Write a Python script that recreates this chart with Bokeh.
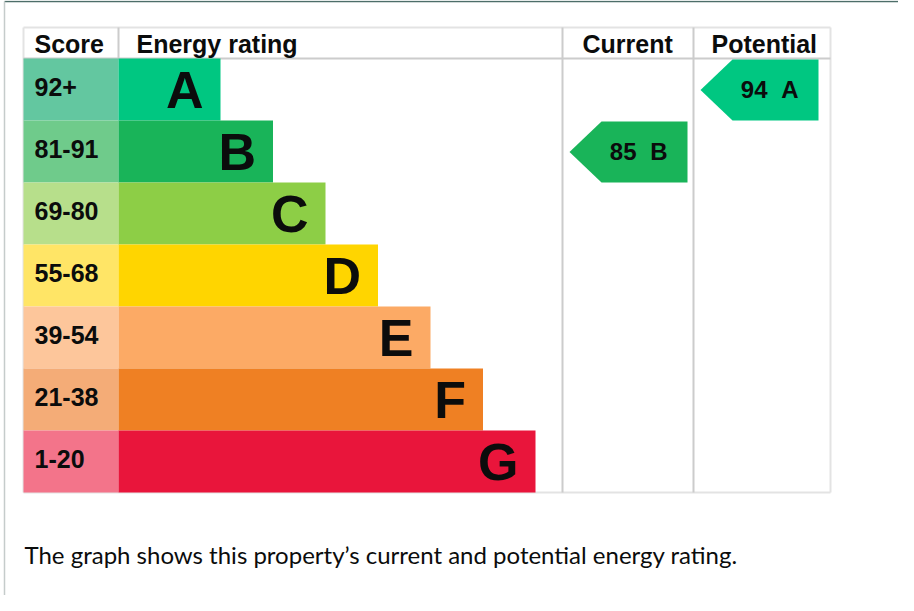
from bokeh.plotting import figure
from bokeh.models import Range1d, ColumnDataSource
from bokeh.core.properties import value
from bokeh.embed import file_html
from bokeh.resources import INLINE

# ---------------- data ----------------
bands = ["A", "B", "C", "D", "E", "F", "G"]
score_ranges = ["92+", "81-91", "69-80", "55-68", "39-54", "21-38", "1-20"]
band_colors = ["#00c781", "#19b459", "#8dce46", "#ffd500", "#fcaa65", "#ef8023", "#e9153b"]
score_colors = ["#63c7a0", "#6fcb8b", "#b7df8b", "#ffe566", "#fdc69b", "#f4ac77", "#f3748a"]
headers = ["Score", "Energy rating", "Current", "Potential"]
current_score = 85
current_band = "B"
potential_score = 94
potential_band = "A"
caption = "The graph shows this property\u2019s current and potential energy rating."

# ---------------- layout (page pixels) ----------------
W, H = 898, 595
TABLE_L, SCORE_R, TABLE_R = 31, 126, 838
HEAD_T, ROW_T, ROW_H = 35, 66, 62
BAR0, BAR_STEP = 102, 52.5
CUR_L, POT_L = 570, 701
ARROW_W, ARROW_TIP, ARROW_PAD = 118, 32, 7
TABLE_B = ROW_T + ROW_H * len(bands)

FONT = value("Liberation Sans")
INK = "#0b0c0c"

p = figure(width=W, height=H, x_range=Range1d(8, 8 + W), y_range=Range1d(8 + H, 8),
           output_backend="svg", toolbar_location=None, min_border=0,
           x_axis_location=None, y_axis_location=None)
p.grid.visible = False
p.outline_line_color = None
p.background_fill_color = "white"
p.border_fill_color = "white"

# page frame lines
p.segment(x0=[12], y0=[9], x1=[906], y1=[9], line_color="#4d6e69", line_width=1.5)
p.segment(x0=[12], y0=[9], x1=[12], y1=[605], line_color="#c5cccb", line_width=1.5)

n = len(bands)
tops = [ROW_T + ROW_H * i for i in range(n)]
bottoms = [t + ROW_H for t in tops]
bar_right = [SCORE_R + BAR0 + BAR_STEP * i for i in range(n)]

src = ColumnDataSource(dict(
    band=bands, score=score_ranges, top=tops, bottom=bottoms,
    bar_right=bar_right, bar_color=band_colors, score_color=score_colors,
    score_left=[TABLE_L] * n, score_right=[SCORE_R] * n,
    label_x=[b - 17 for b in bar_right], label_y=[t + 31.5 for t in tops],
    score_x=[TABLE_L + 11] * n, score_y=[t + 28.5 for t in tops],
))

# table borders
p.segment(x0=[TABLE_L, TABLE_L, TABLE_L, TABLE_R], y0=[HEAD_T, TABLE_B, HEAD_T, HEAD_T],
          x1=[TABLE_R, TABLE_R, TABLE_L, TABLE_R], y1=[HEAD_T, TABLE_B, TABLE_B, TABLE_B],
          line_color="#e3e3e3", line_width=2)
p.segment(x0=[TABLE_L, SCORE_R, CUR_L, POT_L], y0=[ROW_T, HEAD_T, HEAD_T, HEAD_T],
          x1=[TABLE_R, SCORE_R, CUR_L, POT_L], y1=[ROW_T, ROW_T, TABLE_B, TABLE_B],
          line_color="#cccccc", line_width=2)

# score cells & bars
p.quad(left="score_left", right="score_right", top="top", bottom="bottom",
       fill_color="score_color", line_color=None, source=src)
p.quad(left="score_right", right="bar_right", top="top", bottom="bottom",
       fill_color="bar_color", line_color=None, source=src)

p.text(x="score_x", y="score_y", text="score", source=src, text_font=FONT,
       text_font_style="bold", text_font_size="25px", text_color=INK,
       text_align="left", text_baseline="middle")
p.text(x="label_x", y="label_y", text="band", source=src, text_font=FONT,
       text_font_style="bold", text_font_size="52px", text_color=INK,
       text_align="right", text_baseline="middle")

# headers
p.text(x=[TABLE_L + 11, SCORE_R + 18, CUR_L + 20, POT_L + 18], y=[HEAD_T + 16] * 4,
       text=headers, text_font=FONT, text_font_style="bold", text_font_size="25px",
       text_color=INK, text_align="left", text_baseline="middle")

# arrows
def arrow(col_left, score, band):
    i = bands.index(band)
    t, b = tops[i] + 1, bottoms[i]
    tip = col_left + ARROW_PAD
    right = tip + ARROW_W
    xs = [tip, tip + ARROW_TIP, right, right, tip + ARROW_TIP]
    ys = [(t + b) / 2, t, t, b, b]
    return xs, ys, band_colors[i], right, t

arrows = [arrow(CUR_L, current_score, current_band), arrow(POT_L, potential_score, potential_band)]
p.patches(xs=[a[0] for a in arrows], ys=[a[1] for a in arrows],
          fill_color=[a[2] for a in arrows], line_color=None)
p.text(x=[a[3] - 51 for a in arrows], y=[a[4] + 29.5 for a in arrows],
       text=[str(current_score), str(potential_score)], text_font=FONT,
       text_font_style="bold", text_font_size="24px", text_color=INK,
       text_align="right", text_baseline="middle")
p.text(x=[a[3] - 20 for a in arrows], y=[a[4] + 29.5 for a in arrows],
       text=[current_band, potential_band], text_font=FONT,
       text_font_style="bold", text_font_size="24px", text_color=INK,
       text_align="right", text_baseline="middle")

# caption
p.text(x=[32], y=[562], text=[caption], text_font=value("Lato"),
       text_font_size="24px", text_color=INK, text_align="left",
       text_baseline="middle")

open("out.html", "w").write(file_html(p, INLINE))
